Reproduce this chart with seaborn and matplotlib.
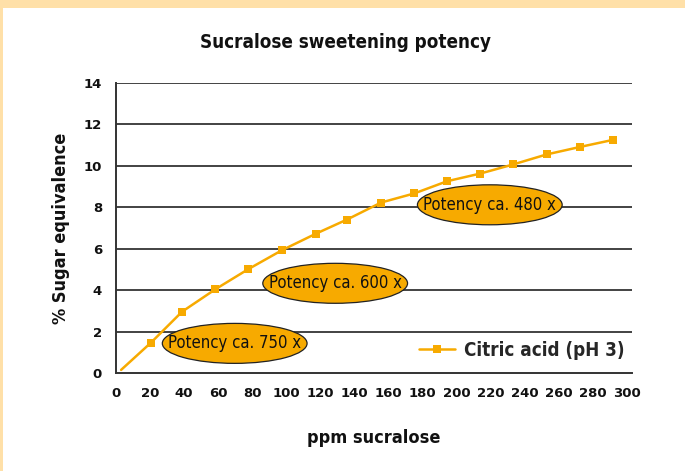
import pandas as pd
import matplotlib.pyplot as plt
import seaborn as sns
from matplotlib.patches import Ellipse, Rectangle
from matplotlib.lines import Line2D
from matplotlib import font_manager

# data
ppm = [3, 20.6, 38.8, 58.3, 77.6, 97.5, 117.5, 135.7, 155.7, 175.2, 194.5, 214.0, 233.3, 252.8, 272.3, 291.6]
sugar_eq = [0.15, 1.47, 2.96, 4.04, 5.01, 5.93, 6.73, 7.41, 8.23, 8.67, 9.26, 9.63, 10.07, 10.55, 10.91, 11.25]
series_name = 'Citric acid (pH 3)'

potency_labels = ['Potency ca. 750 x', 'Potency ca. 600 x', 'Potency ca. 480 x']
potency_x = [69.7, 128.7, 219.5]
potency_y = [1.43, 4.33, 8.12]

x_ticks = list(range(0, 301, 20))
y_ticks = list(range(0, 15, 2))

df = pd.DataFrame({'ppm': ppm, 'sugar': sugar_eq})

sns.set_style('white')
plt.rcParams['font.family'] = ['DejaVu Sans']

names = {f.name for f in font_manager.fontManager.ttflist}
narrow_family = 'Liberation Sans Narrow' if 'Liberation Sans Narrow' in names else 'DejaVu Sans'
narrow = dict(family=narrow_family, stretch='condensed')

orange = '#F7AA00'
ink = '#111111'

fig = plt.figure(figsize=(6.85, 4.71), dpi=100, facecolor='#FFE0A8')
# white panel inside the light orange frame
bg = fig.add_axes([3 / 685, 0, 1, 1 - 8 / 471], zorder=-5)
bg.set_axis_off()
bg.add_patch(Rectangle((0, 0), 1, 1, transform=bg.transAxes, facecolor='white', edgecolor='none'))

ax = fig.add_axes([116 / 685, 1 - 373 / 471, (632 - 116) / 685, (373 - 83) / 471])
ax.set_facecolor('white')

# horizontal gridlines
for yv in y_ticks[1:]:
    ax.axhline(yv, color='#222222', lw=1.2, zorder=1)

sns.lineplot(data=df, x='ppm', y='sugar', ax=ax, color=orange, lw=1.8,
             marker='s', markersize=5.5, markeredgewidth=0, markevery=list(range(1, len(ppm))),
             zorder=3)

# potency ellipses
for lab, ex, ey in zip(potency_labels, potency_x, potency_y):
    ax.add_patch(Ellipse((ex, ey), 85, 1.93, facecolor=orange, edgecolor='#222222', lw=0.9, zorder=4))
    ax.text(ex, ey, lab, ha='center', va='center', fontsize=12, color=ink, zorder=5, **narrow)

ax.set_xlim(0, 303)
ax.set_ylim(0, 14)
ax.set_xticks(x_ticks)
ax.set_yticks(y_ticks)
ax.tick_params(axis='both', labelsize=9.5, colors='#222222', labelcolor=ink, direction='out',
               length=4, width=1.2, pad=6)
for lbl in ax.get_xticklabels() + ax.get_yticklabels():
    lbl.set_fontweight('bold')
for s in ['top', 'right']:
    ax.spines[s].set_visible(False)
for s in ['left', 'bottom']:
    ax.spines[s].set_color('#333333')
    ax.spines[s].set_linewidth(1.4)

ax.set_xlabel('ppm sucralose', fontsize=13, fontweight='bold', labelpad=21, color=ink, **narrow)
ax.set_ylabel('% Sugar equivalence', fontsize=13, fontweight='bold', labelpad=10, color=ink, **narrow)
fig.text(0.505, 1 - 42 / 471, 'Sucralose sweetening potency', ha='center', va='center',
         fontsize=13.5, fontweight='bold', color=ink, **narrow)

handle = Line2D([], [], color=orange, lw=1.8, marker='s', markersize=5.5, markeredgewidth=0)
ax.legend([handle], [series_name], loc='center right', bbox_to_anchor=(1.0, 0.078),
          frameon=False, prop=dict(size=13.5, weight='bold', **narrow), handlelength=1.9,
          handletextpad=0.5, borderaxespad=0)

fig.savefig('out.png', dpi=100, facecolor=fig.get_facecolor())
